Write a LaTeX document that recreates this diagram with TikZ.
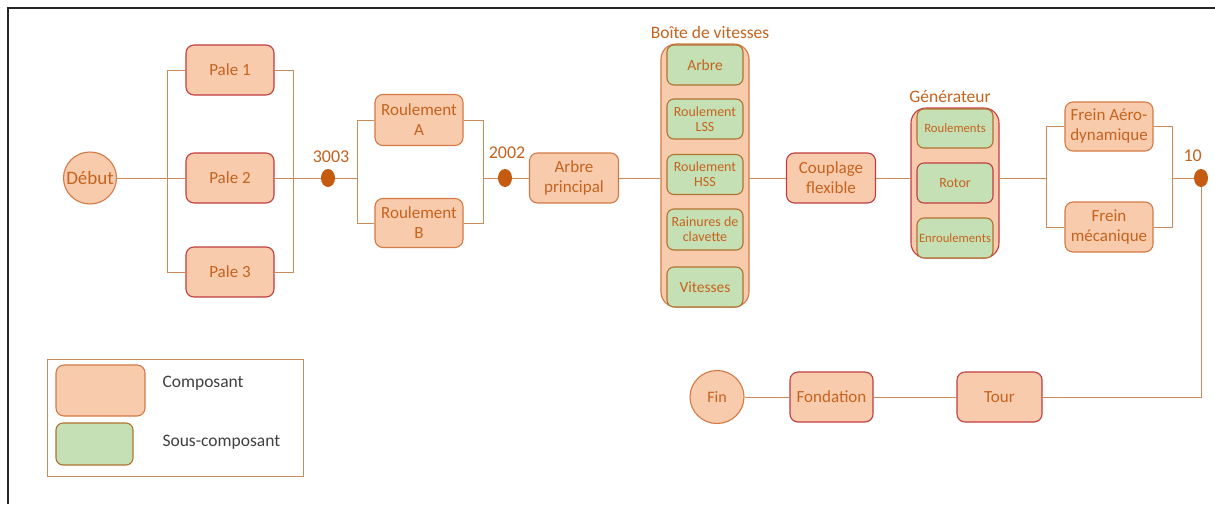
\documentclass[tikz,border=0pt]{standalone}
\usepackage{fontspec}
\setmainfont{Carlito}
\usetikzlibrary{shapes.geometric}

\definecolor{compfill}{HTML}{F8CBAD}
\definecolor{compline}{HTML}{D27A45}
\definecolor{redline}{HTML}{C23C40}
\definecolor{comptext}{HTML}{C5631F}
\definecolor{subfill}{HTML}{C5E0B4}
\definecolor{subline}{HTML}{B07232}
\definecolor{linecol}{HTML}{CC8A58}
\definecolor{dotcol}{HTML}{C55A11}
\definecolor{legtext}{HTML}{404040}
\definecolor{framecol}{HTML}{262626}

\tikzset{
  comp/.style={draw=compline, line width=1.1pt, fill=compfill, rounded corners=8pt, text=comptext, align=center,
    font=\fontsize{17}{20}\selectfont, minimum width=88pt, minimum height=50pt, inner sep=1pt},
  compred/.style={comp, draw=redline},
  holder/.style={draw=compline, line width=1.1pt, fill=compfill, rounded corners=15pt, minimum width=88pt},
  sub/.style={draw=subline, line width=1.1pt, fill=subfill, rounded corners=7pt, text=comptext, align=center,
    font=\fontsize{14}{15}\selectfont, minimum width=76pt, minimum height=40pt, inner sep=1pt},
  ends/.style={ellipse, draw=compline, line width=1.1pt, fill=compfill, text=comptext, inner sep=0pt},
  joint/.style={ellipse, fill=dotcol, minimum width=14pt, minimum height=18pt, inner sep=0pt},
  jtext/.style={text=comptext, font=\fontsize{18}{20}\selectfont},
  ttl/.style={text=comptext, font=\fontsize{17.5}{20}\selectfont},
  link/.style={draw=linecol, line width=1pt},
}

\begin{document}
\begin{tikzpicture}[x=1pt,y=-1pt]
    \useasboundingbox (0,0) rectangle (1215,504);
    \fill[white] (0,0) rectangle (1215,504);
    \draw[framecol, line width=2pt] (8,504) -- (8,8) -- (1215,8);

    \node[ends, inner xsep=-5pt, minimum height=52pt, font=\fontsize{19}{21}\selectfont] (debut) at (90,178) {Début};
    \node[compred] (pale1) at (230,70) {Pale 1};
    \node[compred] (pale2) at (230,178) {Pale 2};
    \node[compred] (pale3) at (230,272) {Pale 3};
    \node[joint] (j3003) at (328,178) {};
    \node[jtext] (t3003) at (331,157) {3003};
    \node[comp, minimum height=51pt] (roulA) at (419,120) {Roulement\\A};
    \node[comp, minimum height=49pt] (roulB) at (419,223) {Roulement\\B};
    \node[joint] (j2002) at (505,178) {};
    \node[jtext] (t2002) at (507,153) {2002};
    \node[comp, minimum width=89pt] (arbre) at (574,178) {Arbre\\principal};

    \node[holder, minimum height=263pt] (boite) at (705,175.5) {};
    \node[ttl] (tboite) at (710,32) {Boîte de vitesses};
    \node[sub, font=\fontsize{15.5}{17}\selectfont] (arbre2) at (705,65) {Arbre};
    \node[sub] (lss) at (705,119) {Roulement\\LSS};
    \node[sub] (hss) at (705,174.5) {Roulement\\HSS};
    \node[sub, minimum height=41pt] (rainure) at (705,229.5) {Rainures de\\clavette};
    \node[sub, font=\fontsize{15.5}{17}\selectfont] (vitesse) at (705,287) {Vitesses};

    \node[compred, minimum width=89pt] (coupl) at (831,178) {Couplage\\flexible};

    \node[holder, draw=redline, minimum height=150pt] (gen) at (955,183) {};
    \node[ttl] (tgen) at (950,97) {Générateur};
    \node[sub, minimum height=39pt, font=\fontsize{12.7}{14}\selectfont] (roulG) at (955,128.5) {Roulements};
    \node[sub, draw=redline] (rotor) at (955,183) {Rotor};
    \node[sub, font=\fontsize{12.7}{14}\selectfont] (enroul) at (955,238) {Enroulements};

    \node[comp, minimum height=49pt] (freinA) at (1109,126.5) {Frein Aéro-\\dynamique};
    \node[comp] (freinM) at (1109,227) {Frein\\mécanique};
    \node[joint] (j1002) at (1201,178) {};
    \node[jtext, anchor=west] (t1002) at (1180,156) {10};

    \node[compred, minimum width=85pt] (tour) at (999.5,397) {Tour};
    \node[compred, minimum width=83pt] (fond) at (831.5,397) {Fondation};
    \node[ends, minimum width=54pt, minimum height=53pt, font=\fontsize{16}{18}\selectfont] (fin) at (717,397) {Fin};

    \coordinate (busrl) at (358,178);
    \coordinate (busrr) at (483,178);
    \coordinate (busfl) at (1047,178);
    \coordinate (busfr) at (1172,178);

    \draw[link] (pale1.west) -- ++(-18,0) |- (pale3.west);
    \draw[link] (pale1.east) -- ++(19,0) |- (pale3.east);
    \draw[link] (debut) -- (pale2);
    \draw[link] (pale2) -- (j3003);
    \draw[link] (j3003) -- (busrl);
    \draw[link] (roulA.west) -- ++(-17,0) |- (roulB.west);
    \draw[link] (roulA.east) -- ++(20,0) |- (roulB.east);
    \draw[link] (busrr) -- (j2002);
    \draw[link] (j2002) -- (arbre);
    \draw[link] (arbre.east) -- (arbre.east -| boite.west);
    \draw[link] (boite.east |- coupl.west) -- (coupl.west);
    \draw[link] (coupl.east) -- (coupl.east -| gen.west);
    \draw[link] (gen.east |- busfl) -- (busfl);
    \draw[link] (freinA.west) -- ++(-18,0) |- (freinM.west);
    \draw[link] (freinA.east) -- ++(19,0) |- (freinM.east);
    \draw[link] (busfr) -- (j1002);
    \draw[link] (j1002) |- (tour);
    \draw[link] (tour) -- (fond);
    \draw[link] (fond) -- (fin);

    \node[draw=linecol, minimum width=256pt, minimum height=117pt] (legend) at (175,417.5) {};
    \node[comp, minimum width=89pt, minimum height=51pt] (legcomp) at (100.5,390.5) {};
    \node[sub, minimum width=77pt, minimum height=42pt] (legsub) at (94.5,444) {};
    \node[anchor=west, text=legtext, font=\fontsize{17.5}{20}\selectfont] (tcomp) at (159,383) {Composant};
    \node[anchor=west, text=legtext, font=\fontsize{17.5}{20}\selectfont] (tsub) at (159,442) {Sous-composant};
\end{tikzpicture}
\end{document}
